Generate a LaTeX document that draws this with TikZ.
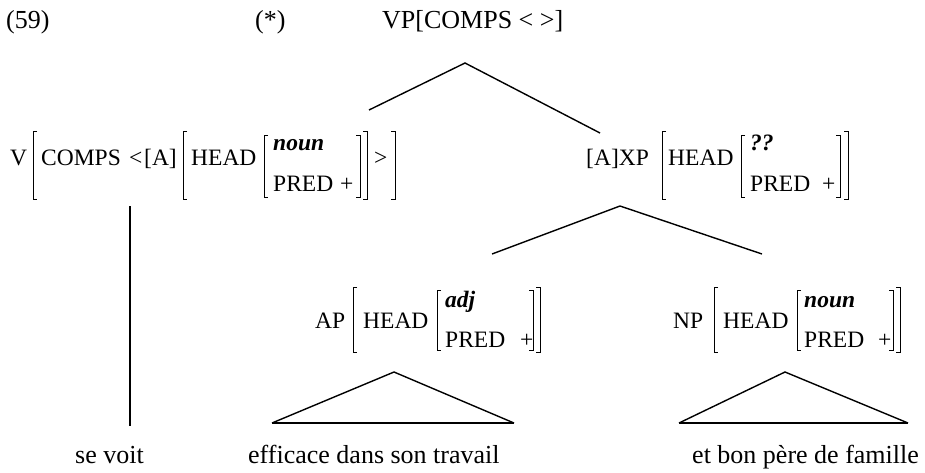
\documentclass[tikz,border=0pt]{standalone}
\usepackage{fontspec}
\setmainfont{Liberation Serif}
\newcommand{\Lbrak}[3]{\draw[brk] ({#1+4},#2) -- (#1,#2) -- (#1,#3) -- ({#1+4},#3);}
\newcommand{\Rbrak}[3]{\draw[brk] ({#1-4},#2) -- (#1,#2) -- (#1,#3) -- ({#1-4},#3);}
\begin{document}
\begin{tikzpicture}[x=1pt,y=-1pt,
  txt/.style={anchor=base west,inner sep=0pt,font=\fontsize{23.5}{27}\selectfont},
  big/.style={anchor=base west,inner sep=0pt,font=\fontsize{26}{30}\selectfont},
  brk/.style={line width=0.9pt},
  branch/.style={line width=1.4pt},
  tri/.style={line width=1.4pt,line join=miter},
  base/.style={line width=2pt}]
\useasboundingbox (0,0) rectangle (925,472);
% title row
\node[big] (ex) at (6,28) {(59)};
\node[big] (star) at (255,28) {(*)};
\node[big] (vp) at (382,28) {VP[COMPS < >]};
% V row
\node[txt] (v) at (10,165) {V};
\Lbrak{33}{131}{199}
\node[txt] (comps) at (41,165) {COMPS};
\node[txt] (lt) at (129,165) {<};
\node[txt] (a1) at (144,165) {[A]};
\Lbrak{183}{131}{199}
\node[txt] (head1) at (191,165) {HEAD};
\Lbrak{264}{135}{197}
\node[txt] (noun1) at (273,150) {\textbf{\textit{noun}}};
\node[txt] (pred1) at (273,191) {PRED};
\node[txt] (plus1) at (340,191) {+};
\Rbrak{360}{135}{197}
\Rbrak{367}{131}{199}
\node[txt] (gt) at (374,165) {>};
\Rbrak{395}{131}{199}
% XP row
\node[txt] (xp) at (586,165) {[A]XP};
\Lbrak{662}{131}{199}
\node[txt] (head2) at (668,165) {HEAD};
\Lbrak{741}{135}{197}
\node[txt] (qq) at (750,150) {\textbf{\textit{??}}};
\node[txt] (pred2) at (750,191) {PRED};
\node[txt] (plus2) at (822,191) {+};
\Rbrak{840}{135}{197}
\Rbrak{848}{131}{199}
% AP row
\node[txt] (ap) at (315,328) {AP};
\Lbrak{353}{287}{352}
\node[txt] (head3) at (363,328) {HEAD};
\Lbrak{437}{290}{350}
\node[txt] (adj) at (445,307) {\textbf{\textit{adj}}};
\node[txt] (pred3) at (445,347) {PRED};
\node[txt] (plus3) at (520,347) {+};
\Rbrak{533}{290}{350}
\Rbrak{540}{287}{352}
% NP row
\node[txt] (np) at (673,328) {NP};
\Lbrak{714}{287}{352}
\node[txt] (head4) at (723,328) {HEAD};
\Lbrak{797}{290}{350}
\node[txt] (noun2) at (804,307) {\textbf{\textit{noun}}};
\node[txt] (pred4) at (804,347) {PRED};
\node[txt] (plus4) at (878,347) {+};
\Rbrak{893}{290}{350}
\Rbrak{900}{287}{352}
% bottom words
\node[big] (sevoit) at (75,463) {se voit};
\node[big] (eff) at (248,463) {efficace dans son travail};
\node[big] (pere) at (692,463) {et bon père de famille};
% tree coordinates
\coordinate (vpTop) at (465,63);
\coordinate (vpL) at (369,110);
\coordinate (vpR) at (600,133);
\coordinate (xpTop) at (620,206);
\coordinate (xpL) at (492,254);
\coordinate (xpR) at (762,254);
\coordinate (apTop) at (394,372);
\coordinate (apL) at (272,423);
\coordinate (apR) at (514,423);
\coordinate (npTop) at (785,372);
\coordinate (npL) at (679,423);
\coordinate (npR) at (908,423);
\coordinate (vTop) at (130,206);
\coordinate (vBot) at (130,426);
\draw[branch] (vpL) -- (vpTop) -- (vpR);
\draw[branch] (xpL) -- (xpTop) -- (xpR);
\draw[tri] (apL) -- (apTop) -- (apR);
\draw[base] (apL) -- (apR);
\draw[tri] (npL) -- (npTop) -- (npR);
\draw[base] (npL) -- (npR);
\draw[branch] (vTop) -- (vBot);
\end{tikzpicture}
\end{document}
